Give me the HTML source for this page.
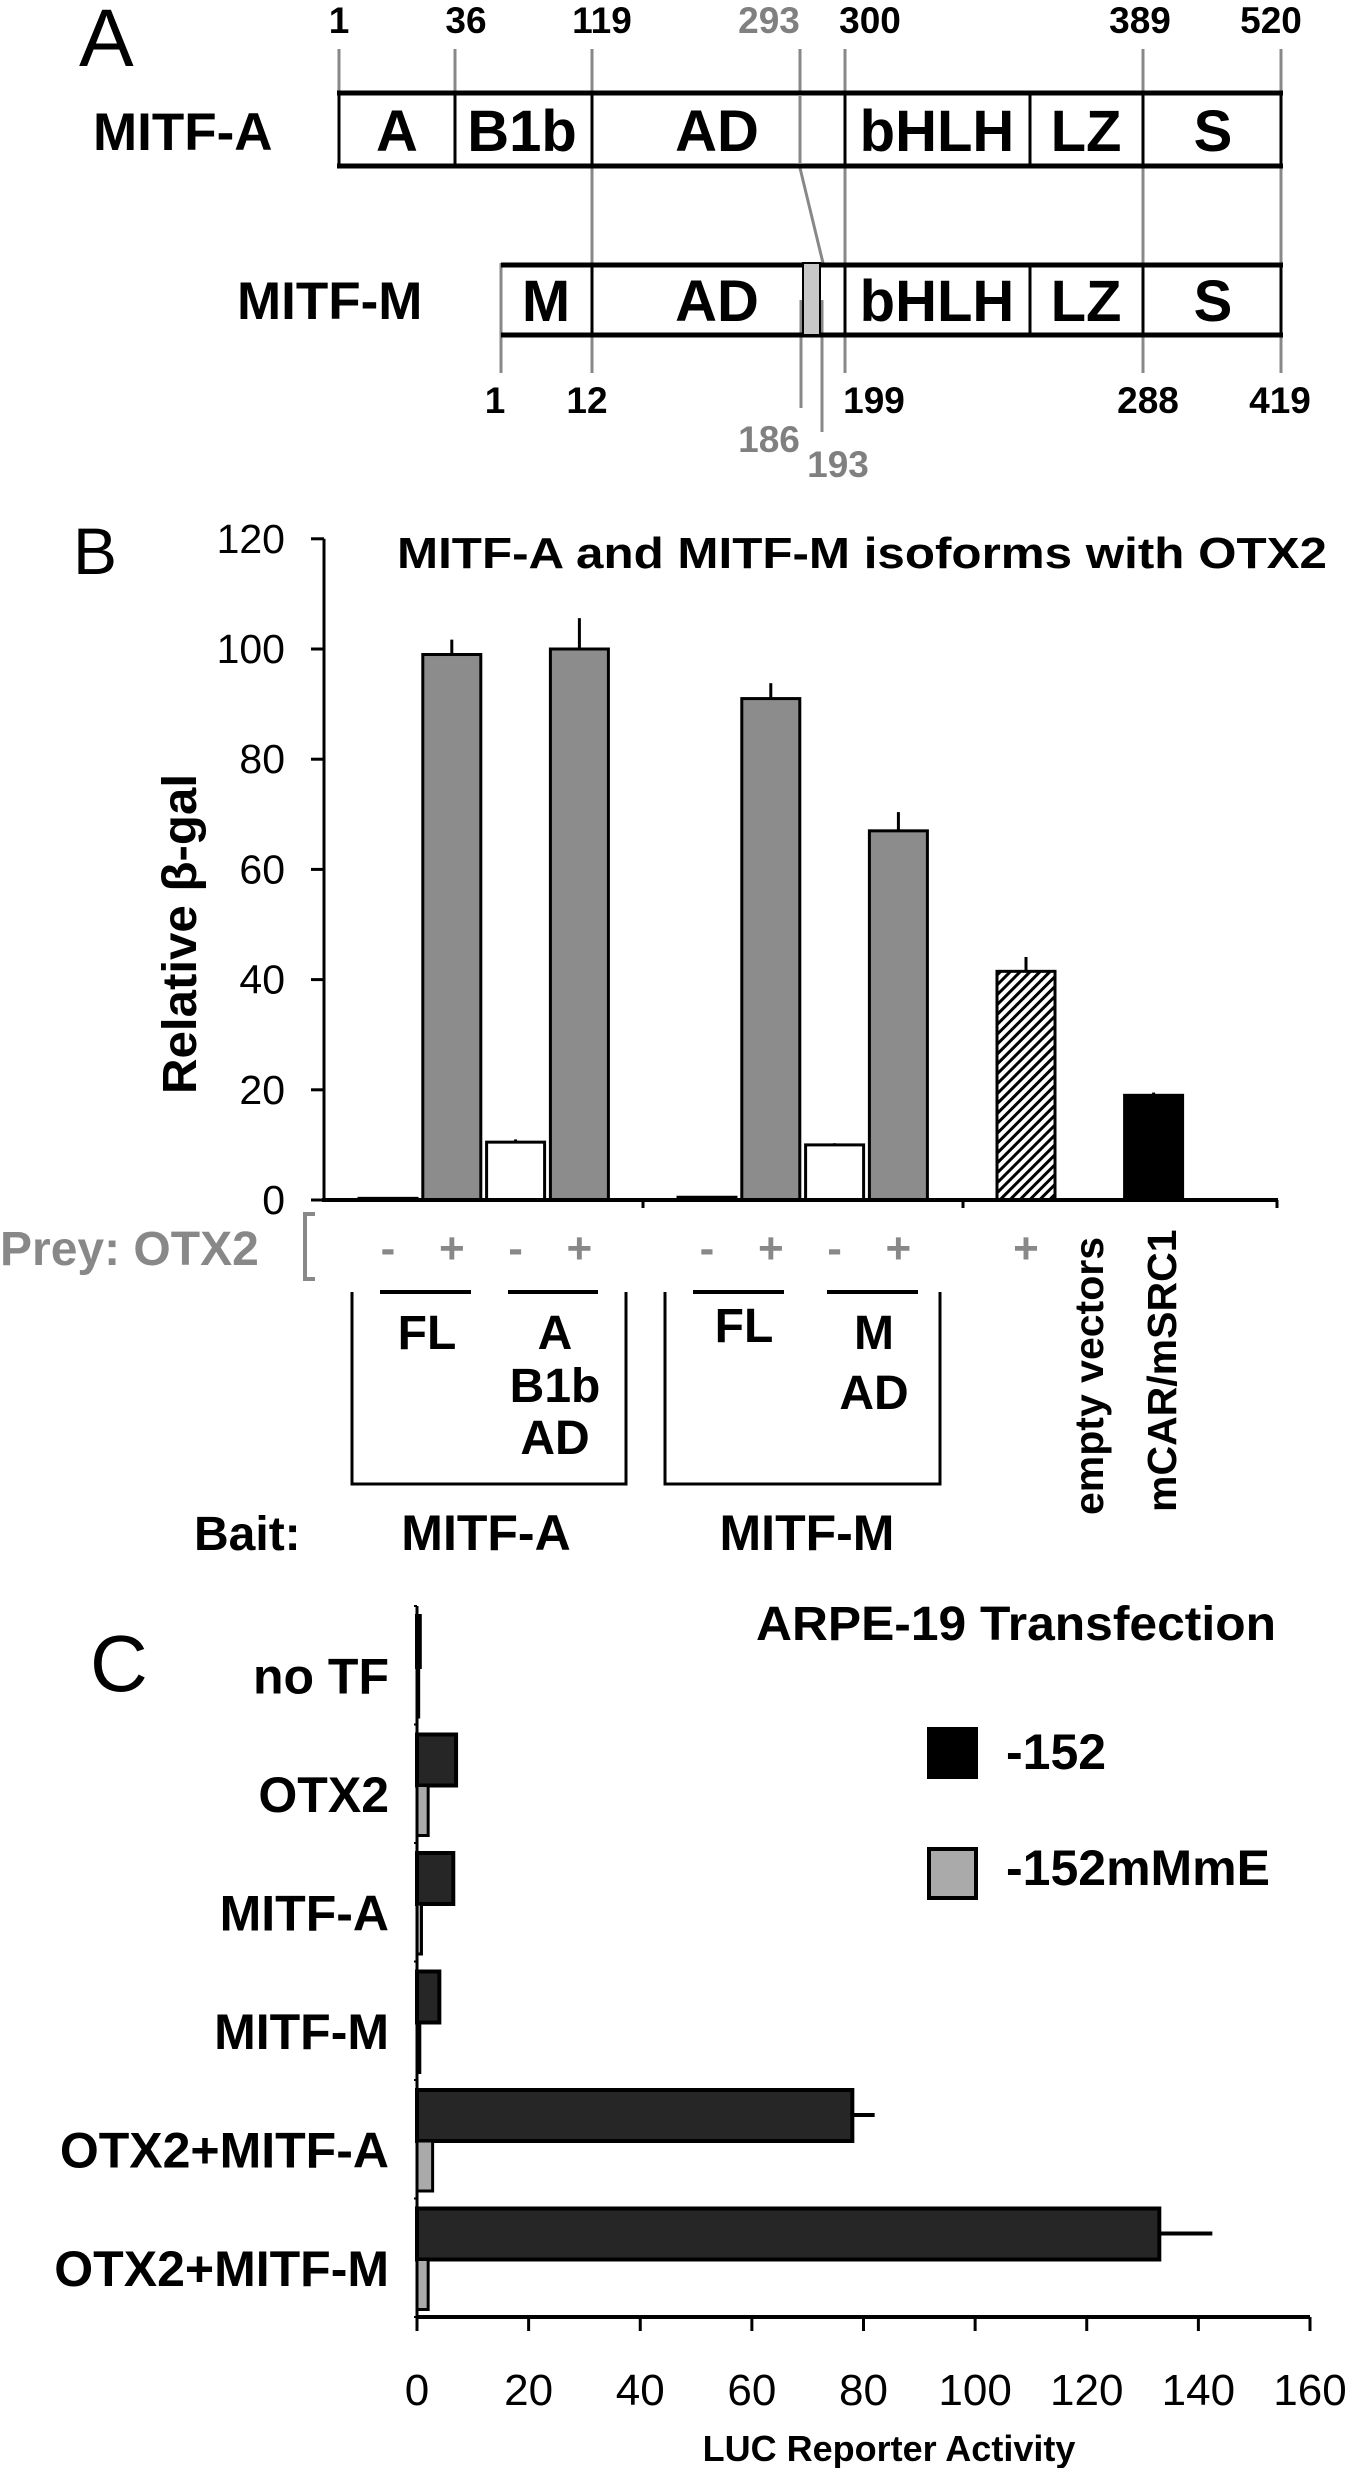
<!DOCTYPE html>
<html><head><meta charset="utf-8">
<style>
html,body{margin:0;padding:0;background:#fff;}
svg{display:block;font-family:"Liberation Sans",Arial,sans-serif;}
.b{font-weight:bold;}
</style></head>
<body>
<svg id="fig" width="1347" height="2468" viewBox="0 0 1347 2468" xmlns="http://www.w3.org/2000/svg">
<defs>
<pattern id="hatch" patternUnits="userSpaceOnUse" width="7" height="7" patternTransform="rotate(45)">
<rect width="7" height="7" fill="#fff"/><rect width="3" height="7" fill="#000"/>
</pattern>
</defs>

<!-- ===== Panel A ===== -->
<g>
<text x="79" y="66" font-size="82">A</text>
<g stroke="#888" stroke-width="3" fill="none">
<line x1="339" y1="49" x2="339" y2="91"/>
<line x1="455" y1="49" x2="455" y2="91"/>
<line x1="592" y1="49" x2="592" y2="373"/>
<line x1="845" y1="49" x2="845" y2="373"/>
<line x1="1143" y1="49" x2="1143" y2="373"/>
<line x1="1281" y1="49" x2="1281" y2="373"/>
<polyline points="800,49 800,168 823,263"/>
<line x1="501" y1="263" x2="501" y2="373"/>
<line x1="801" y1="300" x2="801" y2="408"/>
<line x1="822" y1="300" x2="822" y2="432"/>
</g>
<g font-weight="bold" font-size="37" text-anchor="middle">
<text x="339" y="33">1</text><text x="466" y="33">36</text><text x="602" y="33">119</text>
<text x="769" y="33" fill="#808080">293</text><text x="870" y="33">300</text>
<text x="1140" y="33">389</text><text x="1271" y="33">520</text>
</g>
<text x="93" y="150" class="b" font-size="53">MITF-A</text>
<g>
<rect x="339" y="93" width="942" height="73" fill="#fff" stroke="none"/>
<line x1="337" y1="93" x2="1283" y2="93" stroke="#000" stroke-width="5"/>
<line x1="337" y1="166" x2="1283" y2="166" stroke="#000" stroke-width="5"/>
<g stroke="#000" stroke-width="3">
<line x1="339" y1="91" x2="339" y2="168"/><line x1="455" y1="91" x2="455" y2="168"/>
<line x1="592" y1="91" x2="592" y2="168"/><line x1="845" y1="91" x2="845" y2="168"/>
<line x1="1030" y1="91" x2="1030" y2="168"/><line x1="1143" y1="91" x2="1143" y2="168"/>
<line x1="1281" y1="91" x2="1281" y2="168"/>
</g>
<line x1="800" y1="95" x2="800" y2="164" stroke="#888" stroke-width="3"/>
<g class="b" font-size="58" text-anchor="middle">
<text x="397" y="151">A</text><text x="522" y="151">B1b</text><text x="717" y="151">AD</text>
<text x="937" y="151">bHLH</text><text x="1086" y="151">LZ</text><text x="1213" y="151">S</text>
</g>
</g>
<text x="237" y="319" class="b" font-size="53">MITF-M</text>
<g>
<line x1="501" y1="265" x2="1283" y2="265" stroke="#000" stroke-width="5"/>
<line x1="501" y1="335" x2="1283" y2="335" stroke="#000" stroke-width="5"/>
<rect x="803" y="263" width="17" height="72" fill="#c8c8c8" stroke="#000" stroke-width="2"/>
<g stroke="#000" stroke-width="3">
<line x1="592" y1="263" x2="592" y2="337"/><line x1="845" y1="263" x2="845" y2="337"/>
<line x1="1030" y1="263" x2="1030" y2="337"/><line x1="1143" y1="263" x2="1143" y2="337"/>
<line x1="1281" y1="263" x2="1281" y2="337"/>
</g>
<g class="b" font-size="58" text-anchor="middle">
<text x="546" y="321">M</text><text x="717" y="321">AD</text>
<text x="937" y="321">bHLH</text><text x="1086" y="321">LZ</text><text x="1213" y="321">S</text>
</g>
</g>
<g font-weight="bold" font-size="37" text-anchor="middle">
<text x="495" y="413">1</text><text x="587" y="413">12</text><text x="874" y="413">199</text>
<text x="1148" y="413">288</text><text x="1280" y="413">419</text>
<text x="769" y="452" fill="#808080">186</text><text x="838" y="477" fill="#808080">193</text>
</g>
</g>

<!-- ===== Panel B ===== -->
<g id="panelB">
<text x="73" y="574" font-size="66">B</text>
<text x="397" y="568" class="b" font-size="44" textLength="930" lengthAdjust="spacingAndGlyphs">MITF-A and MITF-M isoforms with OTX2</text>
<text transform="translate(196,934) rotate(-90)" text-anchor="middle" class="b" font-size="48" textLength="320" lengthAdjust="spacingAndGlyphs">Relative β-gal</text>
<text x="0" y="1265" class="b" font-size="48" fill="#888">Prey:  OTX2</text>
<path d="M315,1214 L305,1214 L305,1279 L315,1279" fill="none" stroke="#888" stroke-width="4"/>
<g stroke="#000" stroke-width="4">
<line x1="380" y1="1292" x2="471" y2="1292"/><line x1="508" y1="1292" x2="598" y2="1292"/>
<line x1="693" y1="1292" x2="784" y2="1292"/><line x1="827" y1="1292" x2="918" y2="1292"/>
</g>
<g fill="none" stroke="#000" stroke-width="3">
<path d="M352,1292 L352,1484 L626,1484 L626,1292"/>
<path d="M665,1292 L665,1484 L940,1484 L940,1292"/>
</g>
<g class="b" font-size="48" text-anchor="middle">
<text x="427" y="1349">FL</text>
<text x="555" y="1349">A</text><text x="555" y="1402">B1b</text><text x="555" y="1454">AD</text>
<text x="744" y="1342">FL</text>
<text x="874" y="1349">M</text><text x="874" y="1409">AD</text>
</g>
<text x="194" y="1550" class="b" font-size="48">Bait:</text>
<text x="486" y="1550" class="b" font-size="50" text-anchor="middle">MITF-A</text>
<text x="807" y="1550" class="b" font-size="50" text-anchor="middle">MITF-M</text>
<text transform="translate(1103,1515) rotate(-90)" class="b" font-size="41">empty vectors</text>
<text transform="translate(1176,1512) rotate(-90)" class="b" font-size="41">mCAR/mSRC1</text>
</g>

<!-- ===== Panel C ===== -->
<g id="panelC">
<text x="90" y="1691" font-size="80">C</text>
<text x="756" y="1640" class="b" font-size="48" textLength="520" lengthAdjust="spacingAndGlyphs">ARPE-19 Transfection</text>
<rect x="927" y="1727" width="51" height="52" fill="#000"/>
<text x="1006" y="1769" class="b" font-size="50">-152</text>
<rect x="929" y="1849" width="47" height="49" fill="#aaa" stroke="#000" stroke-width="4"/>
<text x="1006" y="1885" class="b" font-size="50">-152mMmE</text>
<text x="889" y="2461" class="b" font-size="36" text-anchor="middle">LUC Reporter Activity</text>
</g>
</svg>
<script>
// ---------- Panel B data ----------
const bCategories = ["A-FL -", "A-FL +", "A-B1bAD -", "A-B1bAD +", "M-FL -", "M-FL +", "M-AD -", "M-AD +", "empty vectors", "mCAR/mSRC1"];
const bValues = [0.3, 99, 10.5, 100, 0.5, 91, 10, 67, 41.5, 19];
const bErrors = [0, 2.7, 0.5, 5.6, 0, 2.8, 0.3, 3.4, 2.6, 0.5];
const bSlots = [0, 1, 2, 3, 5, 6, 7, 8, 10, 12];
const bKinds = ["gray", "gray", "white", "gray", "gray", "gray", "white", "gray", "hatch", "black"];
const bPrey = ["-", "+", "-", "+", "-", "+", "-", "+", "+", ""];
const bTicks = [0, 20, 40, 60, 80, 100, 120];

// ---------- Panel C data ----------
const cCategories = ["no TF", "OTX2", "MITF-A", "MITF-M", "OTX2+MITF-A", "OTX2+MITF-M"];
const cDark = [0.5, 7, 6.5, 4, 78, 133];
const cDarkErr = [0, 0, 0, 0, 4, 9.5];
const cGray = [0.3, 2, 0.8, 0.5, 2.8, 2];
const cTicks = [0, 20, 40, 60, 80, 100, 120, 140, 160];

const NS = "http://www.w3.org/2000/svg";
function mk(parent, tag, attrs) {
  const e = document.createElementNS(NS, tag);
  for (const k in attrs) e.setAttribute(k, attrs[k]);
  parent.appendChild(e);
  return e;
}

// Panel B axes
(function(){
  const g = document.getElementById("panelB");
  const y0 = 1200, pxPerUnit = 110.2 / 20;
  const yB = v => y0 - v * pxPerUnit;
  const xB = s => 388 + s * 63.8;
  const bw = 58;
  const fills = {gray: "#8c8c8c", white: "#fff", hatch: "url(#hatch)", black: "#000"};
  bTicks.forEach(t => {
    const l = mk(g, "line", {x1: 311, x2: 324, y1: yB(t), y2: yB(t), stroke: "#000", "stroke-width": 3});
    
    
    const tx = mk(g, "text", {x: 285, y: yB(t) + 14, "text-anchor": "end", "font-size": 41});
    tx.textContent = t;
    
    
  });
  bValues.forEach((v, i) => {
    const x = xB(bSlots[i]);
    const r = mk(g, "rect", {x: x - bw/2, y: yB(v), width: bw, height: y0 - yB(v), fill: fills[bKinds[i]], stroke: "#000", "stroke-width": 3});
    
    
    if (bErrors[i] > 0) {
      const e = mk(g, "line", {x1: x, x2: x, y1: yB(v), y2: yB(v + bErrors[i]), stroke: "#000", "stroke-width": 3});
      
      
    }
    if (bPrey[i]) {
      const p = mk(g, "text", {x: x, y: 1263, "text-anchor": "middle", "font-size": 44, "font-weight": "bold", fill: "#888"});
      p.textContent = bPrey[i];
      
      
    }
  });
  const ax = mk(g, "line", {x1: 324, x2: 324, y1: yB(120), y2: y0 + 2, stroke: "#000", "stroke-width": 3});
  
  
  const xa = mk(g, "line", {x1: 322, x2: 1278, y1: y0, y2: y0, stroke: "#000", "stroke-width": 4});
  
  
  [643, 963, 1277].forEach(x => {
    const t = mk(g, "line", {x1: x, x2: x, y1: y0, y2: y0 + 8, stroke: "#000", "stroke-width": 3});
    
    
  });
})();

// Panel C axes
(function(){
  const g = document.getElementById("panelC");
  const x0 = 417, pxPerUnit = 893 / 160;
  const xC = v => x0 + v * pxPerUnit;
  const top = 1606, rowH = 118.5;
  const yRow = i => top + i * rowH;
  cCategories.forEach((c, i) => {
    const yt = yRow(i);
    const d = mk(g, "rect", {x: x0, y: yt + 10, width: xC(cDark[i]) - x0, height: 51, fill: "#262626", stroke: "#000", "stroke-width": 4});
    
    
    const gr = mk(g, "rect", {x: x0, y: yt + 61, width: xC(cGray[i]) - x0, height: 50, fill: "#aaa", stroke: "#000", "stroke-width": 3});
    
    
    if (cDarkErr[i] > 0) {
      const e = mk(g, "line", {x1: xC(cDark[i]), x2: xC(cDark[i] + cDarkErr[i]), y1: yt + 35, y2: yt + 35, stroke: "#000", "stroke-width": 4});
      
      
    }
    const t = mk(g, "text", {x: 389, y: yt + rowH/2 + 28, "text-anchor": "end", "font-size": 50, "font-weight": "bold"});
    t.textContent = c;
    
    
  });
  for (let i = 0; i <= cCategories.length; i++) {
    const tk = mk(g, "line", {x1: x0 - 3, x2: x0, y1: yRow(i), y2: yRow(i), stroke: "#000", "stroke-width": 2});
    
    
  }
  const ya = mk(g, "line", {x1: x0, x2: x0, y1: top, y2: 2319, stroke: "#000", "stroke-width": 3});
  
  
  const xa = mk(g, "line", {x1: x0, x2: xC(160), y1: 2317, y2: 2317, stroke: "#000", "stroke-width": 4});
  
  
  cTicks.forEach(t => {
    const l = mk(g, "line", {x1: xC(t), x2: xC(t), y1: 2317, y2: 2331, stroke: "#000", "stroke-width": 3});
    
    
    const tx = mk(g, "text", {x: xC(t), y: 2405, "text-anchor": "middle", "font-size": 44});
    tx.textContent = t;
    
    
  });
})();
</script>
</body></html>
